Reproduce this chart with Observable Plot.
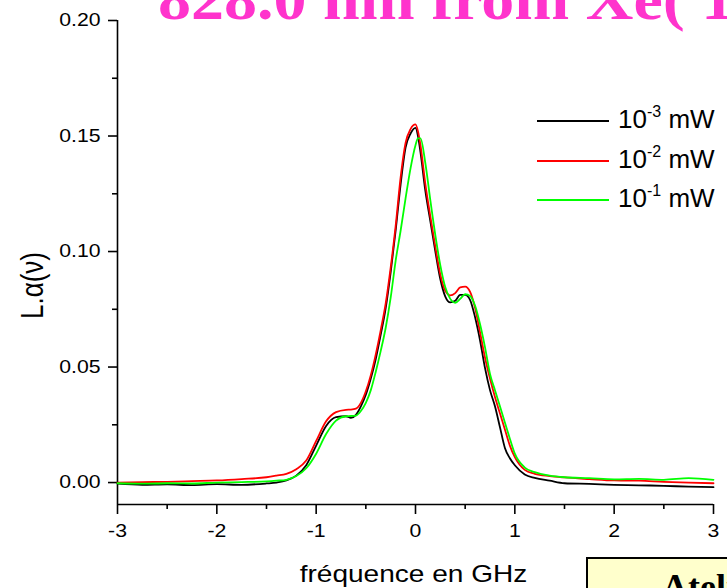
<!DOCTYPE html>
<html>
<head>
<meta charset="utf-8">
<script src="https://cdn.jsdelivr.net/npm/d3@7"></script>
<script src="https://cdn.jsdelivr.net/npm/@observablehq/plot@0.6"></script>
<style>
  html, body { margin: 0; padding: 0; background: #fff; }
  body { width: 727px; height: 588px; overflow: hidden; position: relative; font-family: Arial, "Liberation Sans", sans-serif; }
  #chart { position: absolute; left: 0; top: 0; }
  #title { position: absolute; left: 158px; top: -31px; font: bold 60px/60px "Times New Roman", "Liberation Serif", serif; color: #ff33cc; white-space: nowrap; transform: scaleX(1.1); transform-origin: left top; }
  .leg { position: absolute; left: 537px; height: 30px; display: flex; align-items: center; white-space: nowrap; }
  .sw { display: inline-block; width: 72px; height: 2px; margin-right: 9px; }
  .lt { font-size: 26px; line-height: 30px; color: #000; }
  .lt .sup { font-size: 16px; position: relative; top: -11px; }
  #box { position: absolute; left: 586px; top: 557px; width: 200px; height: 60px; background: #ffffcc; border: 2px solid #000; box-sizing: border-box; }
  #box span { position: absolute; left: 74px; top: 10px; font: bold 36px/36px "Times New Roman", "Liberation Serif", serif; color: #000; white-space: nowrap; }
</style>
</head>
<body>
<div id="chart"></div>
<div id="title"></div>
<div id="legend"></div>
<div id="box"><span></span></div>
<script>
// ---- data ----
const xs = [-3, -2.75, -2.5, -2.25, -2, -1.75, -1.5, -1.4, -1.3, -1.2,
  -1.1, -1.0, -0.9, -0.8, -0.7, -0.65, -0.6, -0.55, -0.5, -0.45,
  -0.4, -0.35, -0.3, -0.25, -0.2, -0.15, -0.1, -0.05, 0, 0.025,
  0.05, 0.1, 0.15, 0.2, 0.25, 0.3, 0.35, 0.4, 0.45, 0.5,
  0.55, 0.6, 0.65, 0.7, 0.75, 0.8, 0.85, 0.9, 0.95, 1.0,
  1.1, 1.2, 1.35, 1.5, 1.75, 2, 2.25, 2.5, 2.75, 3];

const black = [-0.0005, -0.0010, -0.0008, -0.0011, -0.0007, -0.0010, -0.0004, 0.0000, 0.0009, 0.0030,
  0.0075, 0.0160, 0.0245, 0.0283, 0.0287, 0.0280, 0.0293, 0.0330, 0.0380, 0.0450,
  0.0535, 0.0640, 0.0755, 0.0910, 0.1090, 0.1290, 0.1450, 0.1510, 0.1535, 0.1500,
  0.1430, 0.1260, 0.1130, 0.1000, 0.0880, 0.0805, 0.0780, 0.0787, 0.0812, 0.0812,
  0.0790, 0.0715, 0.0615, 0.0495, 0.0400, 0.0330, 0.0240, 0.0150, 0.0105, 0.0075,
  0.0035, 0.0020, 0.0008, -0.0003, -0.0006, -0.0010, -0.0012, -0.0014, -0.0018, -0.0020];

const red = [0.0000, 0.0002, 0.0003, 0.0006, 0.0009, 0.0015, 0.0023, 0.0030, 0.0038, 0.0058,
  0.0095, 0.0180, 0.0265, 0.0305, 0.0315, 0.0316, 0.0320, 0.0345, 0.0395, 0.0465,
  0.0555, 0.0660, 0.0775, 0.0930, 0.1110, 0.1320, 0.1470, 0.1530, 0.1550, 0.1520,
  0.1460, 0.1290, 0.1150, 0.1020, 0.0900, 0.0830, 0.0810, 0.0820, 0.0845, 0.0848,
  0.0825, 0.0755, 0.0650, 0.0540, 0.0450, 0.0370, 0.0300, 0.0230, 0.0160, 0.0110,
  0.0055, 0.0038, 0.0028, 0.0022, 0.0015, 0.0009, 0.0008, 0.0003, 0.0000, -0.0003];

const green = [-0.0003, -0.0005, -0.0003, -0.0004, 0.0000, 0.0002, 0.0005, 0.0008, 0.0012, 0.0028,
  0.0062, 0.0125, 0.0210, 0.0268, 0.0287, 0.0288, 0.0290, 0.0310, 0.0345, 0.0400,
  0.0480, 0.0570, 0.0670, 0.0800, 0.0960, 0.1090, 0.1230, 0.1360, 0.1460, 0.1490,
  0.1490, 0.1380, 0.1220, 0.1070, 0.0940, 0.0845, 0.0795, 0.0778, 0.0795, 0.0815,
  0.0808, 0.0765, 0.0685, 0.0585, 0.0470, 0.0400, 0.0330, 0.0260, 0.0190, 0.0125,
  0.0065, 0.0045, 0.0030, 0.0023, 0.0019, 0.0014, 0.0016, 0.0012, 0.0019, 0.0012];

const seriesNames = ["-3", "-2", "-1"];
const seriesColors = ["#000000", "#ff0000", "#00ff00"];
const xTicks = [-3, -2, -1, 0, 1, 2, 3];
const xMinor = [-2.5, -1.5, -0.5, 0.5, 1.5, 2.5];
const yTicks = [0, 0.05, 0.10, 0.15, 0.20];
const yMinor = [0.025, 0.075, 0.125, 0.175];
const xDomain = [-3, 3];
const yDomain = [-0.0095, 0.20];
const xLabel = "fréquence en GHz";
const yLabel = "L.α(ν)";
const titleText = "828.0 nm from Xe( 1s";
const boxText = "Atelier";

// ---- chart ----
const allSeries = [black, red, green];
const table = allSeries.map((vals, k) => xs.map((x, i) => ({x, y: vals[i], s: k})));

const svg = Plot.plot({
  width: 727,
  height: 588,
  marginLeft: 117,
  marginRight: 14,
  marginTop: 20,
  marginBottom: 84,
  x: {domain: xDomain},
  y: {domain: yDomain},
  style: {fontFamily: "Arial, 'Liberation Sans', sans-serif", background: "white", color: "black", overflow: "visible"},
  marks: [
    Plot.axisY({ticks: yTicks, tickSize: 9, tickPadding: 8, tickFormat: d => d.toFixed(2), fontSize: 18, label: null, strokeWidth: 1.6}),
    Plot.axisY({ticks: yMinor, tickSize: 5, tickFormat: () => "", label: null, strokeWidth: 1.6}),
    Plot.axisX({ticks: xTicks, tickSize: 10, tickPadding: 10, tickFormat: d => String(d), fontSize: 18, label: null, strokeWidth: 1.6}),
    Plot.axisX({ticks: xMinor, tickSize: 5, tickFormat: () => "", label: null, strokeWidth: 1.6}),
    Plot.ruleX([xDomain[0]], {strokeWidth: 1.6}),
    Plot.ruleY([yDomain[0]], {strokeWidth: 1.6}),
    ...table.map((d, k) => Plot.line(d, {x: "x", y: "y", stroke: seriesColors[k], strokeWidth: 1.8, curve: "monotone-x"})),
    Plot.text([xLabel], {frameAnchor: "bottom", textAnchor: "middle", dx: -2, dy: 77.7, lineAnchor: "bottom", fontSize: 23}),
    Plot.text([yLabel], {frameAnchor: "left", textAnchor: "middle", rotate: -90, dx: -75, dy: 23, lineAnchor: "bottom", fontSize: 26})
  ]
});

// stretch text horizontally like the reference
svg.querySelectorAll("text").forEach(t => {
  const s = t.textContent;
  let sc;
  if (s === xLabel) sc = "scale(1.22,1)";
  else if (s === yLabel) sc = "scale(1,1.2)";
  else sc = "scale(1.18,1)";
  const tr = t.getAttribute("transform");
  if (tr) t.setAttribute("transform", tr + " " + sc);
});

document.getElementById("chart").appendChild(svg);
document.getElementById("title").textContent = titleText;
document.querySelector("#box span").textContent = boxText;

const legend = document.getElementById("legend");
seriesNames.forEach((n, k) => {
  const row = document.createElement("div");
  row.className = "leg";
  row.style.top = (106 + k * 39.5) + "px";
  const sw = document.createElement("span");
  sw.className = "sw";
  sw.style.background = seriesColors[k];
  const lt = document.createElement("span");
  lt.className = "lt";
  lt.innerHTML = "10<span class=\"sup\">" + n + "</span> mW";
  row.appendChild(sw);
  row.appendChild(lt);
  legend.appendChild(row);
});
</script>
</body>
</html>
